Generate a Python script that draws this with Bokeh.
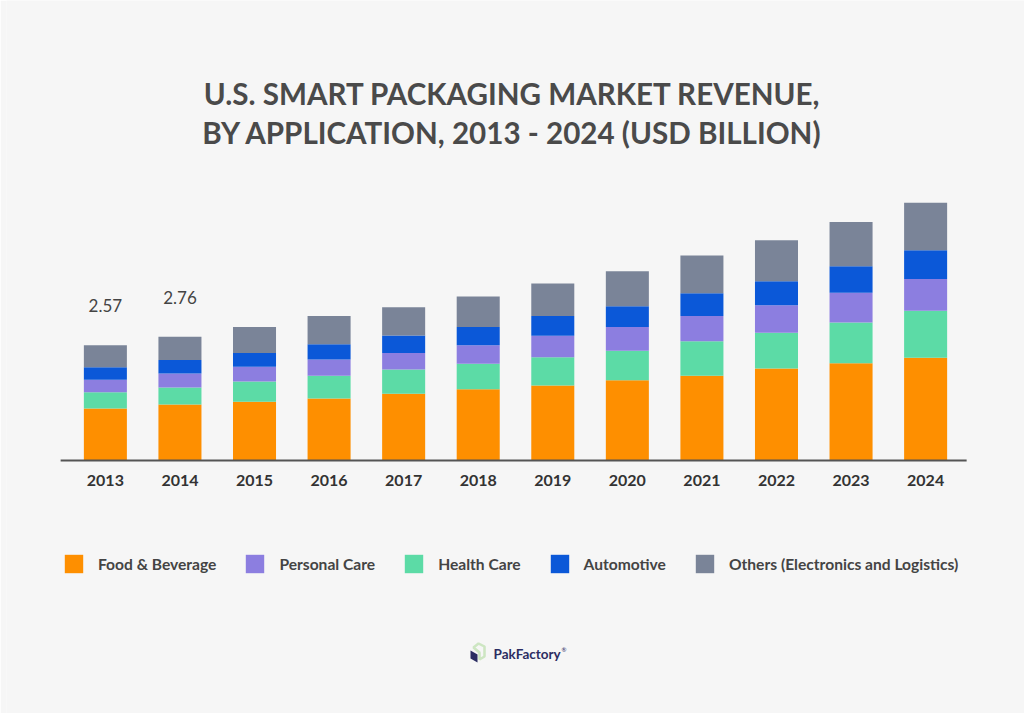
from bokeh.plotting import figure
from bokeh.models import (ColumnDataSource, FactorRange, Range1d, Label, Legend,
                          LegendItem, PolyAnnotation)
from bokeh.core.properties import value
from bokeh.embed import file_html
from bokeh.resources import INLINE

# ---------------- data ----------------
years = ["2013", "2014", "2015", "2016", "2017", "2018",
         "2019", "2020", "2021", "2022", "2023", "2024"]
food_beverage = [1.16, 1.25, 1.31, 1.38, 1.49, 1.59, 1.67, 1.79, 1.89, 2.05, 2.17, 2.29]
health_care = [0.36, 0.38, 0.45, 0.51, 0.54, 0.57, 0.63, 0.66, 0.77, 0.80, 0.91, 1.05]
personal_care = [0.28, 0.31, 0.33, 0.36, 0.37, 0.41, 0.48, 0.53, 0.56, 0.61, 0.66, 0.71]
automotive = [0.28, 0.30, 0.31, 0.34, 0.39, 0.41, 0.44, 0.46, 0.51, 0.54, 0.59, 0.64]
others = [0.49, 0.52, 0.58, 0.63, 0.63, 0.68, 0.73, 0.78, 0.84, 0.91, 0.99, 1.06]

label_years = ["2013", "2014"]
label_texts = ["2.57", "2.76"]

title_lines = ["U.S. SMART PACKAGING MARKET REVENUE,",
               "BY APPLICATION, 2013 - 2024 (USD BILLION)"]

# ---------------- styling ----------------
BG = "#f6f6f6"
COL_FOOD = "#fe8f00"
COL_HEALTH = "#5cdba6"
COL_PERSONAL = "#8c7ee0"
COL_AUTO = "#0b58d8"
COL_OTHERS = "#7a8498"
TEXT = "#444444"
NAVY = "#2b2d62"

W, H = 1024, 713
LEFT = 6
PX_PER_UNIT = 44.84
BASE_Y = 460  # pixel row of the zero line, from the top

source = ColumnDataSource(dict(
    year=years, food=food_beverage, health=health_care, personal=personal_care,
    auto=automotive, others=others,
))

totals = [a + b + c + d + e for a, b, c, d, e in
          zip(food_beverage, health_care, personal_care, automotive, others)]
lab_src = ColumnDataSource(dict(
    x=label_years, text=label_texts,
    y=[totals[years.index(y)] + 0.88 for y in label_years],
))

p = figure(
    width=W, height=H,
    x_range=FactorRange(*years, range_padding=0.826, range_padding_units="absolute"),
    y_range=Range1d(-(H - BASE_Y) / PX_PER_UNIT, BASE_Y / PX_PER_UNIT),
    output_backend="svg", toolbar_location=None,
    min_border_left=LEFT, min_border_right=0, min_border_top=0, min_border_bottom=0,
    background_fill_color=BG, border_fill_color=BG, outline_line_color=None,
)

stackers = ["food", "health", "personal", "auto", "others"]
colors = [COL_FOOD, COL_HEALTH, COL_PERSONAL, COL_AUTO, COL_OTHERS]
rs = p.vbar_stack(stackers, x="year", width=0.577, color=colors, source=source,
                  line_color=None)

# baseline
p.segment(x0=[(years[0], -0.6)], x1=[(years[-1], 0.55)], y0=[0], y1=[0],
          line_color="#555555", line_width=2)

p.text(x="x", y="y", text="text", source=lab_src, text_align="center",
       text_baseline="middle", text_font=value("Lato"), text_font_size="17px",
       text_color=TEXT)

p.xgrid.visible = False
p.ygrid.visible = False
p.yaxis.visible = False
ax = p.xaxis[0]
ax.fixed_location = 0
ax.axis_line_color = None
ax.major_tick_line_color = None
ax.minor_tick_line_color = None
ax.major_label_standoff = 8
ax.major_label_text_font = "Lato"
ax.major_label_text_font_style = "bold"
ax.major_label_text_font_size = "16px"
ax.major_label_text_color = "#333333"

# Title (screen units relative to the frame's bottom-left)
for i, line in enumerate(title_lines):
    p.add_layout(Label(x=512 - LEFT, y=H - 93 - 39 * i, x_units="screen", y_units="screen",
                       text=line, text_align="center", text_baseline="middle",
                       text_font="Lato", text_font_style="bold", text_font_size="29.6px",
                       text_color="#4a4a4a"))

# Legend
order = [(0, "Food & Beverage"), (2, "Personal Care"), (1, "Health Care"),
         (3, "Automotive"), (4, "Others (Electronics and Logistics)")]
items = [LegendItem(label=name, renderers=[rs[idx]]) for idx, name in order]
legend = Legend(items=items, orientation="horizontal", location=(62 - LEFT, H - 575),
                glyph_width=23, glyph_height=23, label_standoff=13, spacing=27,
                padding=0, margin=0, border_line_color=None, background_fill_alpha=0,
                label_text_font="Lato", label_text_font_style="bold",
                label_text_font_size="15.6px", label_text_color=TEXT,
                label_height=23)
p.add_layout(legend, "center")

# Logo
def sx(v):
    return [x - LEFT for x in v]

def sy(v):
    return [H - y for y in v]

p.add_layout(PolyAnnotation(xs=sx([470, 477, 477, 470]), ys=sy([650, 654, 662, 658]),
                            xs_units="screen", ys_units="screen",
                            fill_color=NAVY, fill_alpha=1, line_color=None))
p.add_layout(PolyAnnotation(xs=sx([473, 478, 484, 484, 479, 479]),
                            ys=sy([647, 643, 646, 656, 659, 652]),
                            xs_units="screen", ys_units="screen",
                            fill_alpha=0, line_color="#6cc04a", line_width=2.5))
p.add_layout(Label(x=493 - LEFT, y=H - 653, x_units="screen", y_units="screen",
                   text="PakFactory", text_align="left", text_baseline="middle",
                   text_font="Lato", text_font_style="bold", text_font_size="13.5px",
                   text_color=NAVY))
p.add_layout(Label(x=561 - LEFT, y=H - 649, x_units="screen", y_units="screen", text="®",
                   text_align="left", text_baseline="middle", text_font="Lato",
                   text_font_size="6px", text_color=NAVY))

open("out.html", "w").write(file_html(p, INLINE))
